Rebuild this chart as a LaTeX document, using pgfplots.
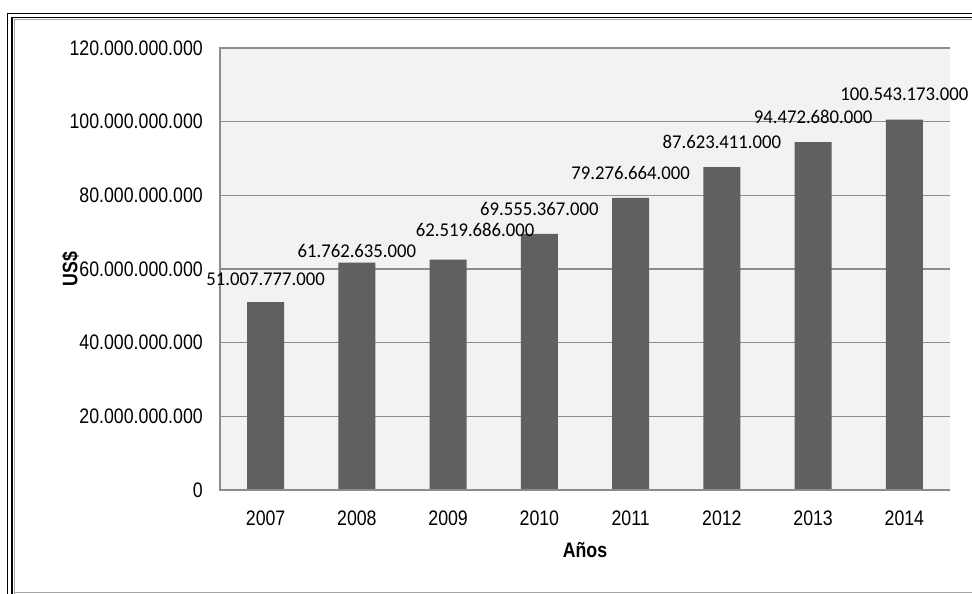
\documentclass[border=0pt]{standalone}
\usepackage{pgfplots}
\pgfplotsset{compat=1.18}
\usepackage{pgfplotstable}
\usepackage{fontspec}
\setmainfont{Liberation Sans}[FakeStretch=0.845]
\newfontfamily\calibri{Carlito}[FakeStretch=0.96]
\definecolor{barc}{RGB}{96,96,96}
\definecolor{bgc}{RGB}{242,242,242}
\definecolor{gridc}{RGB}{140,140,140}
\pgfplotstableread{
x y label dx dy
0 51.007777 51.007.777.000 0 17
1 61.762635 61.762.635.000 0 5.5
2 62.519686 62.519.686.000 27 23
3 69.555367 69.555.367.000 0 18
4 79.276664 79.276.664.000 0 18
5 87.623411 87.623.411.000 0 19
6 94.472680 94.472.680.000 0 18.5
7 100.543173 100.543.173.000 0 19
}\datatable
\begin{document}
\begin{tikzpicture}[x=1pt,y=1pt]
\useasboundingbox (0,0) rectangle (972,594);
% frame
\draw[black,line width=1.8pt] (7.5,-5) -- (7.5,580.5) -- (990,580.5);
\draw[black,line width=1.5pt] (12,-5) -- (12,576.5) -- (990,576.5);
\draw[gray!70,line width=1pt] (14,-5) -- (14,574.2) -- (990,574.2);
\draw[gray!70,line width=1pt] (14,1) -- (990,1);
\begin{axis}[
  at={(220pt,104pt)}, anchor=south west,
  scale only axis, width=730pt, height=442pt,
  xmin=-0.5, xmax=7.5, ymin=0, ymax=120,
  axis line style={draw=none},
  axis background/.style={fill=bgc},
  ymajorgrids, grid style={gridc,line width=1.5pt},
  major tick length=0pt,
  xtick={0,...,7},
  xticklabels={2007,2008,2009,2010,2011,2012,2013,2014},
  ytick={0,20,40,60,80,100,120},
  yticklabels={0,20.000.000.000,40.000.000.000,60.000.000.000,80.000.000.000,100.000.000.000,120.000.000.000},
  yticklabel style={font=\fontsize{21}{24}\selectfont, anchor=east, inner sep=0pt, xshift=-17pt},
  xticklabel style={font=\fontsize{21}{24}\selectfont, anchor=north, inner sep=0pt, yshift=-20.5pt},
  xlabel={Años},
  xlabel style={font=\fontsize{21}{24}\selectfont\bfseries, at={(axis description cs:0.5,0)}, anchor=base, inner sep=0pt, yshift=-68pt},
  ylabel={US\$},
  ylabel style={font=\fontsize{21}{24}\selectfont\bfseries, at={(axis description cs:-0.205,0.5)}, anchor=center, inner sep=0pt},
  clip=false,
]
\addplot[ybar, bar width=37pt, fill=barc, draw=none,
  point meta=explicit symbolic,
  visualization depends on={\thisrow{dx} \as \dx},
  visualization depends on={\thisrow{dy} \as \dy},
  nodes near coords,
  nodes near coords style={font=\calibri\fontsize{19.5}{22}\selectfont, anchor=base, inner sep=0pt, xshift=\dx pt, yshift=\dy pt, text=black},
] table[x=x, y=y, meta=label] {\datatable};
\draw[gridc,line width=1.5pt] (rel axis cs:1,1) -- (rel axis cs:0,1) -- (rel axis cs:0,0) -- (rel axis cs:1,0);
\end{axis}
\end{tikzpicture}
\end{document}
